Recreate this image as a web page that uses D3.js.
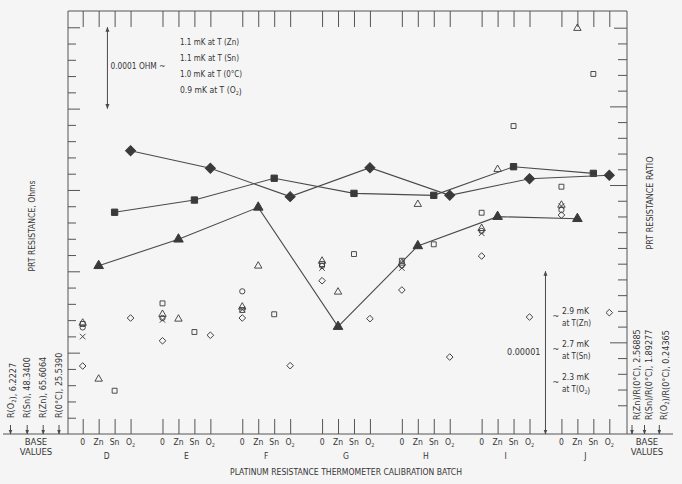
<!DOCTYPE html>
<html>
<head>
<meta charset="utf-8">
<script src="https://cdn.jsdelivr.net/npm/d3@7"></script>
<style>
  body { margin: 0; background: #f5f5f5; }
  svg text { font-family: "Liberation Sans Narrow", "DejaVu Sans Condensed", sans-serif; fill: #363636; }
</style>
</head>
<body>
<svg id="chart" width="682" height="484"></svg>
<script>
// categories
var batches = ['D', 'E', 'F', 'G', 'H', 'I', 'J'];
var slots = ['0', 'Zn', 'Sn', 'O_2'];

// resistance ratios (right axis, filled marks, in tick units)
var ratioZn = [10.34, 11.97, 13.93, 6.60, 11.56, 13.36, 13.23];
var ratioSn = [13.63, 14.38, 15.72, 14.79, 14.67, 16.43, 16.02];
var ratioO2 = [17.41, 16.33, 14.59, 16.37, 14.67, 15.69, 15.90];

// resistances (left axis, open marks, in tick units)
var resZn = [3.38, 7.07, 10.33, 8.73, 14.12, 16.27, 24.94];
var resSn = [2.66, 6.27, 7.36, 11.06, 11.66, 18.93, 22.13];
var resO2 = [7.13, 6.07, 4.20, 7.09, 4.73, 7.19, 7.46];

// R(0 C) read after each fixed point
var r0Circle = [6.55, 7.13, 8.77, 10.33, 10.36, 12.48, 13.77];
var r0Cross = [5.99, 7.01, 7.65, 10.20, 10.20, 12.34, 14.01];
var r0Tri = [6.82, 7.36, 7.81, 10.63, 10.51, 12.64, 14.07];
var r0Sq = [6.76, 8.03, 7.62, 10.45, 10.65, 13.60, 15.20];
var r0Dia = [4.18, 5.73, 7.13, 9.42, 8.85, 10.94, 13.46];

var leftBase = ['R(O_2),  6.2227', 'R(Sn), 48.3400', 'R(Zn), 65.6064', 'R(0°C), 25.5390'];
var rightBase = ['R(Zn)/R(0°C), 2.56885', 'R(Sn)/R(0°C), 1.89277', 'R(O_2)/R(0°C), 0.24365'];
var leftNotes = ['1.1 mK at T (Zn)', '1.1 mK at T (Sn)', '1.0 mK at T (0°C)', '0.9 mK at T (O_2)'];
var rightNotes = [['2.9 mK', 'at T(Zn)'], ['2.7 mK', 'at T(Sn)'], ['2.3 mK', 'at T(O_2)']];

var svg = d3.select('#chart');
var ink = '#4a4a4a';

var x = d3.scaleLinear().domain([0, 33]).range([82.7, 609.3]);
var y = d3.scaleLinear().domain([0, 26]).range([434, 11]);
var leftX = 68, rightX = 627, topY = 11, baseY = 434;

function idx(b, s) { return b * 5 + s; }

// text with "_2" style subscripts
function label(g, px, py, s, size, anchor, rot) {
    var t = g.append('text')
        .attr('font-size', size)
        .attr('text-anchor', anchor || 'start');
    if (rot) t.attr('transform', 'translate(' + px + ',' + py + ') rotate(' + rot + ')');
    else t.attr('x', px).attr('y', py);
    s.split(/(_\d)/).forEach(function (p) {
        if (!p) return;
        if (p[0] == '_') {
            t.append('tspan').attr('dy', size * 0.25).attr('font-size', size * 0.65).text(p[1]);
            t.append('tspan').attr('dy', -size * 0.25).text('');
        } else {
            t.append('tspan').text(p);
        }
    });
    return t;
}

var defs = svg.append('defs');
defs.append('marker').attr('id', 'ah').attr('viewBox', '0 0 10 10')
    .attr('refX', 9).attr('refY', 5).attr('markerWidth', 5).attr('markerHeight', 5)
    .attr('orient', 'auto-start-reverse')
    .append('path').attr('d', 'M0,1L10,5L0,9Z').attr('fill', ink);

// frame
var frame = svg.append('g').attr('stroke', '#555').attr('stroke-width', 1).attr('fill', 'none');
frame.append('path').attr('d', 'M' + leftX + ',' + baseY + 'V' + topY + 'H' + rightX + 'V' + baseY);
frame.append('line').attr('x1', 3).attr('x2', 673).attr('y1', baseY).attr('y2', baseY);

var allSlots = [];
batches.forEach(function (b, i) { slots.forEach(function (s, j) { allSlots.push(idx(i, j)); }); });

function styleAxis(g) {
    g.select('.domain').remove();
    g.selectAll('line').attr('stroke', '#555');
}

svg.append('g').attr('transform', 'translate(0,' + baseY + ')')
    .call(d3.axisBottom(x).tickValues(allSlots).tickSize(-15).tickFormat(''))
    .call(styleAxis);
svg.append('g').attr('transform', 'translate(0,' + topY + ')')
    .call(d3.axisTop(x).tickValues(allSlots).tickSize(-16).tickFormat(''))
    .call(styleAxis);

var minor = d3.range(1, 26).filter(function (k) { return k % 5; });
var major = [5, 10, 15, 20, 25];
svg.append('g').attr('transform', 'translate(' + leftX + ',0)')
    .call(d3.axisRight(y).tickValues(minor).tickSize(8).tickFormat('')).call(styleAxis);
svg.append('g').attr('transform', 'translate(' + leftX + ',0)')
    .call(d3.axisRight(y).tickValues(major).tickSize(12).tickFormat('')).call(styleAxis);

var yR = d3.scaleLinear().domain([0, 25]).range([421, 27.7]);
svg.append('g').attr('transform', 'translate(' + rightX + ',0)')
    .call(d3.axisLeft(yR).tickValues(d3.range(1, 25).filter(function (k) { return [5, 15, 20].indexOf(k) < 0; }))
        .tickSize(9).tickFormat('')).call(styleAxis);
svg.append('g').attr('transform', 'translate(' + rightX + ',0)')
    .call(d3.axisLeft(yR).tickValues([5, 15, 20]).tickSize(17).tickFormat('')).call(styleAxis);
svg.append('g').attr('transform', 'translate(' + rightX + ',0)')
    .call(d3.axisLeft(yR).tickValues([25]).tickSize(13).tickFormat('')).call(styleAxis);

// category labels
var lab = svg.append('g');
batches.forEach(function (b, i) {
    slots.forEach(function (s, j) {
        label(lab, x(idx(i, j)), 444.5, s, 8.5, 'middle');
    });
    label(lab, (x(idx(i, 1)) + x(idx(i, 2))) / 2, 459, b, 8.5, 'middle');
});
label(lab, 346, 475, 'PLATINUM RESISTANCE THERMOMETER CALIBRATION BATCH', 8.5, 'middle')
    .attr('textLength', 232).attr('lengthAdjust', 'spacingAndGlyphs');

// axis titles
label(lab, 35, 226, 'PRT RESISTANCE, Ohms', 9, 'middle', -90)
    .attr('textLength', 91).attr('lengthAdjust', 'spacingAndGlyphs');
label(lab, 652.5, 203, 'PRT RESISTANCE RATIO', 9, 'middle', -90)
    .attr('textLength', 93).attr('lengthAdjust', 'spacingAndGlyphs');

// base values
var lx = [10, 26.7, 42.7, 58.5];
leftBase.forEach(function (s, i) {
    label(lab, lx[i] + 3.5, 418, s, 9, 'start', -90);
    svg.append('line').attr('x1', lx[i] + 0.5).attr('x2', lx[i] + 0.5).attr('y1', 425).attr('y2', baseY)
        .attr('stroke', ink).attr('marker-end', 'url(#ah)');
});
label(lab, 36, 445, 'BASE', 9.5, 'middle');
label(lab, 36, 455, 'VALUES', 9.5, 'middle');

var rx = [636, 648.5, 663.3];
rightBase.forEach(function (s, i) {
    label(lab, rx[i] + 3.5, 420, s, 9, 'start', -90);
    svg.append('line').attr('x1', rx[i] - 4).attr('x2', rx[i] - 4).attr('y1', 425).attr('y2', baseY)
        .attr('stroke', ink).attr('marker-end', 'url(#ah)');
});
label(lab, 647, 445, 'BASE', 9.5, 'middle');
label(lab, 647, 455, 'VALUES', 9.5, 'middle');

// scale annotations
svg.append('line').attr('x1', x(1.55)).attr('x2', x(1.55)).attr('y1', y(25)).attr('y2', y(20))
    .attr('stroke', ink).attr('marker-start', 'url(#ah)').attr('marker-end', 'url(#ah)');
label(lab, x(1.55) + 3, 68.5, '0.0001 OHM ~', 9, 'start')
    .attr('textLength', 55).attr('lengthAdjust', 'spacingAndGlyphs');
leftNotes.forEach(function (s, i) {
    var t = label(lab, 180, 45 + i * 16, s, i == 3 ? 8.5 : 9, 'start');
    if (i < 3) t.attr('textLength', [59, 59, 62][i]).attr('lengthAdjust', 'spacingAndGlyphs');
});

svg.append('line').attr('x1', x(29)).attr('x2', x(29)).attr('y1', y(10)).attr('y2', y(0))
    .attr('stroke', ink).attr('marker-start', 'url(#ah)').attr('marker-end', 'url(#ah)');
label(lab, x(29) - 5, 355, '0.00001', 9, 'end');
rightNotes.forEach(function (p, i) {
    var yy = 314 + i * 33;
    label(lab, 556, yy + 5, '~', 9, 'middle');
    label(lab, 562, yy, p[0], 8.5, 'start');
    label(lab, 562, yy + 12, p[1], 8, 'start');
});

// marks
var sym = {
    circle: d3.symbol().type(d3.symbolCircle).size(22),
    cross: d3.symbol().type(d3.symbolTimes).size(22),
    tri: d3.symbol().type(d3.symbolTriangle).size(24),
    sq: d3.symbol().type(d3.symbolSquare).size(24),
    dia: d3.symbol().type(d3.symbolSquare).size(22),
    bigTri: d3.symbol().type(d3.symbolTriangle).size(40),
    bigSq: d3.symbol().type(d3.symbolSquare).size(40),
    bigDia: d3.symbol().type(d3.symbolSquare).size(50)
};

function series(vals, slot, shape, filled, lineOn) {
    var pts = vals.map(function (v, i) { return [x(idx(i, slot)), y(v)]; });
    var g = svg.append('g');
    if (lineOn) {
        g.append('path').attr('d', d3.line()(pts)).attr('fill', 'none')
            .attr('stroke', '#4a4a4a').attr('stroke-width', 1.1);
    }
    var rot = (shape == 'dia' || shape == 'bigDia') ? ' rotate(45)' : '';
    g.selectAll('path.m').data(pts).enter().append('path').attr('class', 'm')
        .attr('d', sym[shape]())
        .attr('transform', function (d) { return 'translate(' + d[0] + ',' + d[1] + ')' + rot; })
        .attr('fill', filled ? '#3a3a3a' : 'none')
        .attr('stroke', '#3a3a3a').attr('stroke-width', filled ? 1 : 0.9);
}

series(r0Dia, 0, 'dia', false);
series(r0Sq, 0, 'sq', false);
series(r0Tri, 0, 'tri', false);
series(r0Cross, 0, 'cross', false);
series(r0Circle, 0, 'circle', false);
series(resZn, 1, 'tri', false);
series(resSn, 2, 'sq', false);
series(resO2, 3, 'dia', false);

series(ratioZn, 1, 'bigTri', true, true);
series(ratioSn, 2, 'bigSq', true, true);
series(ratioO2, 3, 'bigDia', true, true);
</script>
</body>
</html>
